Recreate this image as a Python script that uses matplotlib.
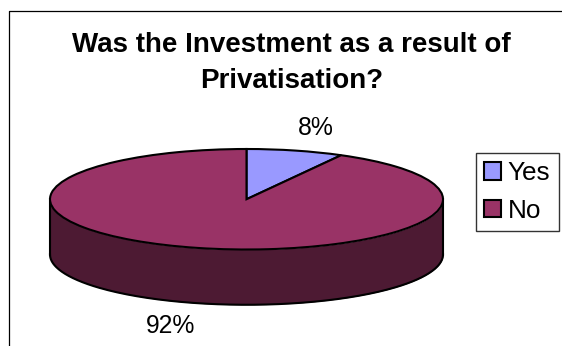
import numpy as np
import matplotlib
matplotlib.use("Agg")
import matplotlib.pyplot as plt
from matplotlib.lines import Line2D

plt.rcParams['font.family'] = ['Liberation Sans', 'DejaVu Sans']

title = "Was the Investment as a result of\nPrivatisation?"
categories = ["Yes", "No"]
values = [8, 92]
colors = ["#9999FF", "#993366"]
side_color = "#4D1A33"

W, H = 562, 346
fig = plt.figure(figsize=(W / 100, H / 100), dpi=100, facecolor="white")


def fx(px):
    return px / W


def fy(px):
    return 1 - px / H


# chart frame, only the top and left edges fall inside the figure
fig.add_artist(Line2D([fx(8.5), fx(8.5), 1], [0, fy(10.5), fy(10.5)], color="black", lw=0.9))

fig.text(fx(291.5), fy(63.5), title, ha="center", va="center", fontsize=20,
         fontweight="bold", linespacing=1.5)

# top face of the pie: a normal pie squashed by a wider than tall axes
ax = fig.add_axes([fx(50), fy(249.5), fx(393), 100.5 / H])
wedges, _ = ax.pie(values, colors=colors, startangle=90, counterclock=False, radius=1,
                   wedgeprops=dict(edgecolor="black", linewidth=1.5))
ax.set_aspect("auto")
ax.set_xlim(-1, 1)
ax.set_ylim(-1, 1)
for w in wedges:
    w.set_clip_on(False)
    w.set_zorder(3)

# side wall below the front half of the ellipse
depth = 1.1
t = np.linspace(np.pi, 2 * np.pi, 200)
ax.fill_between(np.cos(t), np.sin(t), np.sin(t) - depth, color=side_color, lw=0, clip_on=False, zorder=1)
ax.plot(np.cos(t), np.sin(t) - depth, color="black", lw=1.5, clip_on=False, zorder=2)
ax.plot([-1, -1], [0, -depth], color="black", lw=1.5, clip_on=False, zorder=2)
ax.plot([1, 1], [0, -depth], color="black", lw=1.5, clip_on=False, zorder=2)

fig.text(fx(315.5), fy(128), f"{values[0]}%", ha="center", va="center", fontsize=17.8)
fig.text(fx(171), fy(326), f"{values[1]}%", ha="center", va="center", fontsize=17.8)

handles = [plt.Rectangle((0, 0), 1, 1, facecolor=c, edgecolor="black", lw=1.5) for c in colors]
fig.legend(handles, categories, loc="upper right", bbox_to_anchor=(fx(559), fy(152.5)),
           fontsize=18.8, frameon=True, fancybox=False, edgecolor="#333333", framealpha=1,
           handlelength=0.65, handleheight=0.65, handletextpad=0.25, labelspacing=0.52,
           borderpad=0.33, borderaxespad=0)

fig.savefig("out.png", dpi=100)
